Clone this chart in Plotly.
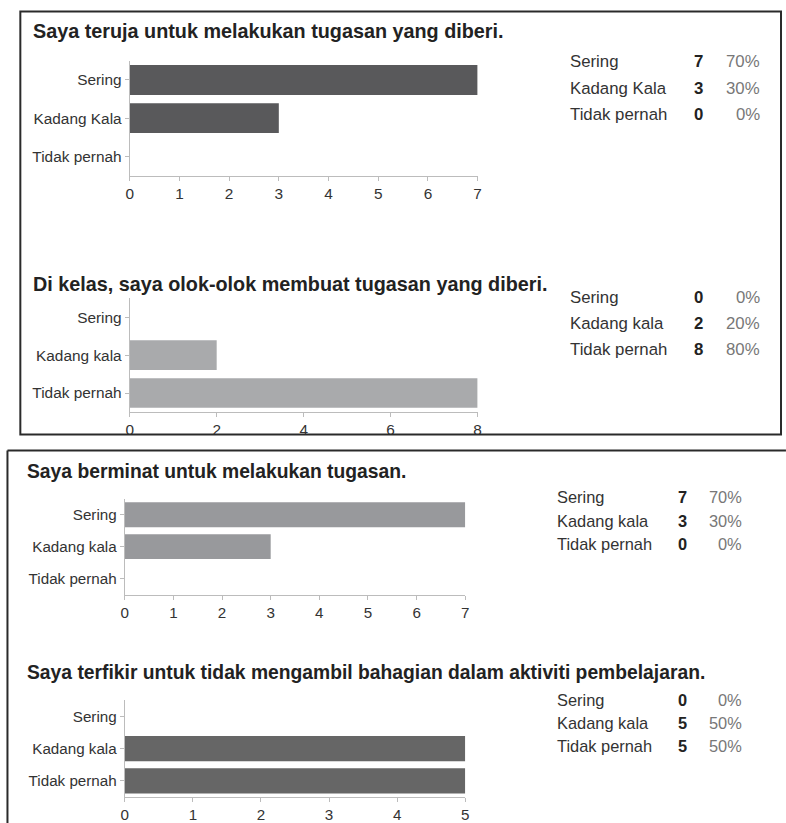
import plotly.graph_objects as go

W, H = 786, 823

# ---------------- data ----------------
titles = [
    "Saya teruja untuk melakukan tugasan yang diberi.",
    "Di kelas, saya olok-olok membuat tugasan yang diberi.",
    "Saya berminat untuk melakukan tugasan.",
    "Saya terfikir untuk tidak mengambil bahagian dalam aktiviti pembelajaran.",
]
cats1 = ["Sering", "Kadang Kala", "Tidak pernah"]
cats2 = ["Sering", "Kadang kala", "Tidak pernah"]
cats3 = ["Sering", "Kadang kala", "Tidak pernah"]
cats4 = ["Sering", "Kadang kala", "Tidak pernah"]
vals1 = [7, 3, 0]
vals2 = [0, 2, 8]
vals3 = [7, 3, 0]
vals4 = [0, 5, 5]
pct1 = ["70%", "30%", "0%"]
pct2 = ["0%", "20%", "80%"]
pct3 = ["70%", "30%", "0%"]
pct4 = ["0%", "50%", "50%"]
xmax = [7, 8, 7, 5]
xdtick = [1, 2, 1, 1]

# ---------------- layout helpers ----------------
def px(x):
    return x / W

def py(y):
    return 1 - y / H

charts = [
    dict(cats=cats1, vals=vals1, pct=pct1, color="#59595b",
         xd=(127, 478.5), yd=(61, 176), title_xy=(27, 31), tsize=19.8,
         tab_x=(570, 702, 766), tab_y=(62, 88.5, 115), tab_size=16.8, tick_size=15.4),
    dict(cats=cats2, vals=vals2, pct=pct2, color="#a9aaac",
         xd=(127, 478.5), yd=(299, 413), title_xy=(27, 285), tsize=19.8,
         tab_x=(570, 702, 766), tab_y=(298, 324, 350), tab_size=16.8, tick_size=15.4),
    dict(cats=cats3, vals=vals3, pct=pct3, color="#98999c",
         xd=(122, 466), yd=(500, 596), title_xy=(21, 473), tsize=19.3,
         tab_x=(557, 685, 748), tab_y=(498, 522, 545), tab_size=16.4, tick_size=15.2),
    dict(cats=cats4, vals=vals4, pct=pct4, color="#666666",
         xd=(122, 466), yd=(702, 799), title_xy=(21, 674), tsize=19.3,
         tab_x=(557, 685, 748), tab_y=(702, 725, 748), tab_size=16.4, tick_size=15.2),
]

fig = go.Figure()
annotations = []
axis_common = dict(showline=True, linecolor="#bcbcbc", linewidth=1,
                   ticks="outside", ticklen=4, tickcolor="#bcbcbc",
                   showgrid=False, zeroline=False, fixedrange=True)

for i, c in enumerate(charts):
    n = "" if i == 0 else str(i + 1)
    fig.add_trace(go.Bar(
        x=c["vals"], y=c["cats"], orientation="h",
        marker=dict(color=c["color"], line=dict(width=0)),
        xaxis="x" + n, yaxis="y" + n, showlegend=False, hoverinfo="x+y",
    ))
    fig.layout["xaxis" + n] = dict(
        axis_common, domain=[px(c["xd"][0]), px(c["xd"][1])],
        anchor="y" + n, range=[0, xmax[i]], dtick=xdtick[i], tick0=0,
        tickfont=dict(family="Liberation Sans, Arial, sans-serif",
                      size=c["tick_size"], color="#333333"),
    )
    fig.layout["yaxis" + n] = dict(
        axis_common, domain=[py(c["yd"][1]), py(c["yd"][0])],
        anchor="x" + n, autorange="reversed", type="category",
        categoryorder="array", categoryarray=c["cats"],
        tickfont=dict(family="Liberation Sans, Arial, sans-serif",
                      size=c["tick_size"], color="#333333"),
    )
    # title
    annotations.append(dict(
        text="<b>" + titles[i] + "</b>", x=px(c["title_xy"][0]), y=py(c["title_xy"][1]),
        xref="paper", yref="paper", xanchor="left", yanchor="middle", showarrow=False,
        font=dict(family="Liberation Sans, Arial, sans-serif", size=c["tsize"], color="#222222"),
    ))
    # summary table
    for lab, v, p, yy in zip(c["cats"], c["vals"], c["pct"], c["tab_y"]):
        f = dict(family="Liberation Sans, Arial, sans-serif", size=c["tab_size"])
        annotations.append(dict(text=lab, x=px(c["tab_x"][0]), y=py(yy), xref="paper", yref="paper",
                                xanchor="left", yanchor="middle", showarrow=False,
                                font=dict(f, color="#333333")))
        annotations.append(dict(text="<b>%d</b>" % v, x=px(c["tab_x"][1]), y=py(yy), xref="paper",
                                yref="paper", xanchor="center", yanchor="middle", showarrow=False,
                                font=dict(f, color="#222222")))
        annotations.append(dict(text=p, x=px(c["tab_x"][2]), y=py(yy), xref="paper", yref="paper",
                                xanchor="right", yanchor="middle", showarrow=False,
                                font=dict(f, color="#777777")))

shapes = [
    # top panel frame
    dict(type="rect", xref="paper", yref="paper", x0=px(16.5), x1=px(785), y0=py(435.5), y1=py(11.5),
         line=dict(color="#2a2a2a", width=2)),
    # bottom panel frame (left + top, runs off the page)
    dict(type="line", xref="paper", yref="paper", x0=px(3.5), x1=px(790), y0=py(451.5), y1=py(451.5),
         line=dict(color="#2a2a2a", width=2)),
    dict(type="line", xref="paper", yref="paper", x0=px(3.5), x1=px(3.5), y0=py(451.5), y1=py(830),
         line=dict(color="#2a2a2a", width=2)),
]

fig.update_layout(
    width=W, height=H, margin=dict(l=0, r=0, t=0, b=0),
    paper_bgcolor="white", plot_bgcolor="white",
    bargap=0.22, annotations=annotations, shapes=shapes,
    font=dict(family="Liberation Sans, Arial, sans-serif", color="#333333"),
)

fig.write_html(
    "out.html",
    config={"displayModeBar": False},
    post_script="document.body.style.margin='0';document.body.style.overflow='hidden';",
)
